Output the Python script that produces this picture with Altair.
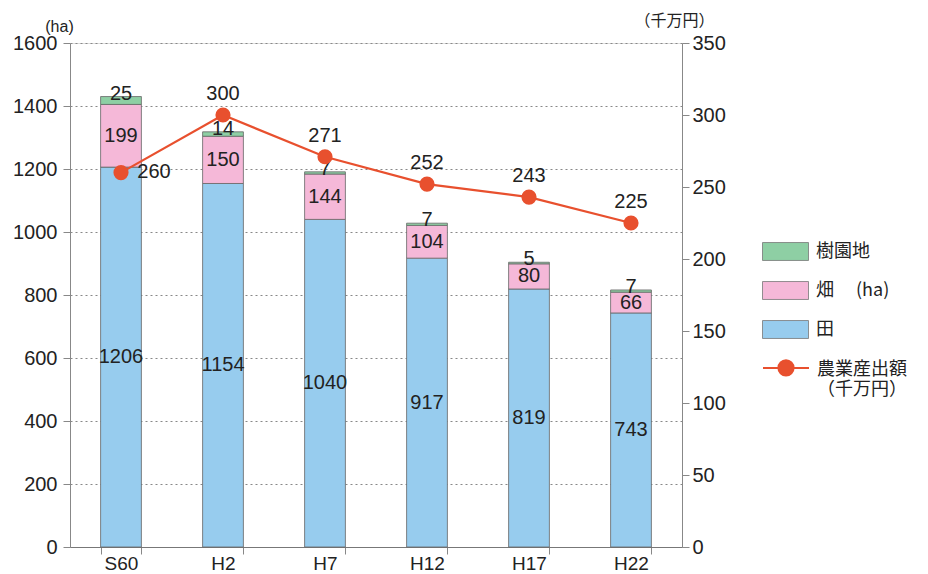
import altair as alt
import pandas as pd

categories = ["S60", "H2", "H7", "H12", "H17", "H22"]
ta = [1206, 1154, 1040, 917, 819, 743]
hatake = [199, 150, 144, 104, 80, 66]
juen = [25, 14, 7, 7, 5, 7]
output = [260, 300, 271, 252, 243, 225]

series_names = ["田", "畑　 (ha)", "樹園地"]
legend_order = ["樹園地", "畑　 (ha)", "田"]
legend_colors = ["#8ECFA4", "#F5B8D8", "#97CCEE"]
line_name = "農業産出額|（千万円）"
line_color = "#E8502E"

rows = []
for i, c in enumerate(categories):
    base = 0
    for k, (name, vals) in enumerate(zip(series_names, [ta, hatake, juen])):
        v = vals[i]
        rows.append(dict(cat=c, series=name, value=v, lo=base, hi=base + v,
                         mid=base + v / 2, order=k))
        base += v
bars_df = pd.DataFrame(rows)
line_df = pd.DataFrame(dict(cat=categories, output=output, series=[line_name] * len(categories)))

FONT = "Liberation Sans"
JFONT = "Noto Sans CJK JP"

xaxis = alt.Axis(title=None, labelAngle=0, tickBand="extent", tickSize=7,
                 labelFontSize=19, labelFont=FONT, labelColor="#222",
                 labelPadding=0, domainColor="#777", tickColor="#888", grid=False)
xenc = alt.X("cat:N", sort=categories,
             scale=alt.Scale(paddingInner=0.6, paddingOuter=0.3), axis=xaxis)

yleft = alt.Scale(domain=[0, 1600])
left_axis = alt.Axis(values=list(range(0, 1601, 200)), format="d", title="(ha)", titleAngle=0,
                     titleX=-11, titleY=-17, titleAlign="center", titleBaseline="middle",
                     titleFont=FONT, titleFontSize=16, titleFontWeight="normal", titleColor="#222",
                     labelFontSize=20, labelFont=FONT, labelColor="#222", labelPadding=6,
                     tickSize=7, tickColor="#888", domainColor="#888",
                     grid=True, gridDash=[2, 3], gridColor="#888", gridWidth=1)

yright = alt.Scale(domain=[0, 350])
right_axis = alt.Axis(orient="right", values=list(range(0, 351, 50)), format="d", title="（千万円）",
                      titleAngle=0, titleX=-8, titleY=-23, titleAlign="center",
                      titleBaseline="middle", titleFont=JFONT, titleFontSize=16,
                      titleFontWeight="normal", titleColor="#222",
                      labelFontSize=20, labelFont=FONT, labelColor="#222", labelPadding=3,
                      tickSize=7, tickColor="#888", domainColor="#888", grid=False)

bars = alt.Chart(bars_df).mark_bar(stroke="#666", strokeWidth=0.8).encode(
    x=xenc,
    y=alt.Y("hi:Q", scale=yleft, axis=left_axis),
    y2="lo:Q",
    color=alt.Color("series:N", scale=alt.Scale(domain=legend_order, range=legend_colors),
                    legend=alt.Legend(title=None, orient="none", legendX=692, legendY=185,
                                      symbolType="M-1,-0.39H1V0.39H-1Z", symbolSize=2116,
                                      symbolStrokeColor="#777", symbolStrokeWidth=0.8,
                                      labelFont=JFONT, labelFontSize=18, labelColor="#222",
                                      labelOffset=7, rowPadding=4, padding=0)),
    order=alt.Order("order:Q"),
)

txt_mid = alt.Chart(bars_df).transform_filter("datum.order < 2").mark_text(
    font=FONT, fontSize=20, color="#222", baseline="middle").encode(
    x=alt.X("cat:N", sort=categories, axis=xaxis),
    y=alt.Y("mid:Q", scale=yleft, axis=left_axis),
    text="value:Q")

txt_top = alt.Chart(bars_df).transform_filter("datum.order == 2").mark_text(
    font=FONT, fontSize=20, color="#222", baseline="middle", dy=-3).encode(
    x=alt.X("cat:N", sort=categories, axis=xaxis),
    y=alt.Y("hi:Q", scale=yleft, axis=left_axis),
    text="value:Q")

line = alt.Chart(line_df).mark_line(strokeWidth=2.2).encode(
    x=alt.X("cat:N", sort=categories, axis=xaxis),
    y=alt.Y("output:Q", scale=yright, axis=right_axis),
    stroke=alt.Stroke("series:N", scale=alt.Scale(range=[line_color]),
                      legend=alt.Legend(title=None, orient="none", legendX=692, legendY=294,
                                        symbolType="M-1,0.3H-0.33A0.33,0.33 0 1,1 0.33,0.3A0.33,0.33 0 1,1 -0.33,0.3M0.33,0.3H1",
                                        symbolSize=2116, symbolFillColor=line_color,
                                        symbolStrokeWidth=2,
                                        labelExpr="split(datum.label, '|')",
                                        labelFont=JFONT, labelFontSize=18, labelColor="#222",
                                        labelOffset=7, labelBaseline="top", padding=0)),
)
points = alt.Chart(line_df).mark_circle(size=230, opacity=1, color=line_color).encode(
    x=alt.X("cat:N", sort=categories, axis=xaxis),
    y=alt.Y("output:Q", scale=yright, axis=right_axis))
lab_above = alt.Chart(line_df).transform_filter("datum.cat != 'S60'").mark_text(
    font=FONT, fontSize=20, color="#222", dy=-21, baseline="middle").encode(
    x=alt.X("cat:N", sort=categories, axis=xaxis),
    y=alt.Y("output:Q", scale=yright, axis=right_axis),
    text="output:Q")
lab_right = alt.Chart(line_df).transform_filter("datum.cat == 'S60'").mark_text(
    font=FONT, fontSize=20, color="#222", dx=33, dy=-1, baseline="middle").encode(
    x=alt.X("cat:N", sort=categories, axis=xaxis),
    y=alt.Y("output:Q", scale=yright, axis=right_axis),
    text="output:Q")

left = alt.layer(bars, txt_mid, txt_top)
right = alt.layer(line, points, lab_above, lab_right)

chart = alt.layer(left, right).resolve_scale(y="independent").properties(
    width=612, height=504,
    autosize=alt.AutoSizeParams(type="none"),
    padding={"left": 62, "top": 35, "right": 230, "bottom": 26},
).configure_view(stroke="#999", strokeWidth=1).configure(background="white")

chart.save("out.html", embed_options={"renderer": "svg", "actions": False})
